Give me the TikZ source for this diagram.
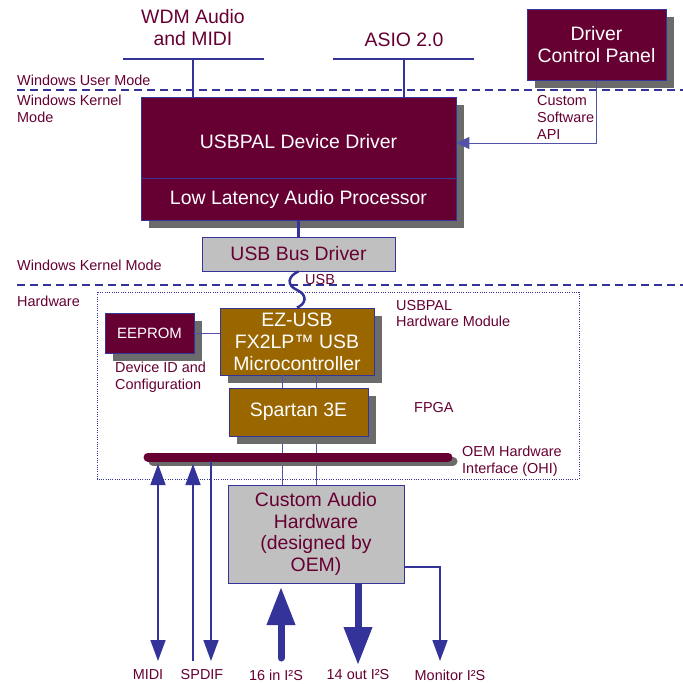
\documentclass[tikz,border=0pt]{standalone}
\usepackage{fontspec}
\setmainfont{Liberation Sans}
\usetikzlibrary{arrows.meta,shadows}
\definecolor{maroonc}{HTML}{660033}
\definecolor{brownc}{HTML}{996600}
\definecolor{greyc}{HTML}{C0C0C0}
\definecolor{bluec}{HTML}{333399}
\definecolor{shadc}{HTML}{6B6B6B}
\begin{document}
\begin{tikzpicture}[x=1bp,y=-1bp,
  big/.style={font=\fontsize{19.5}{22}\selectfont},
  small/.style={font=\fontsize{14.5}{16.8}\selectfont, text=maroonc},
  shd/.style={general shadow={fill=shadc, shadow xshift=8bp, shadow yshift=-8bp}},
  boxbase/.style={draw=bluec, line width=0.8bp, big, align=center, inner sep=0pt},
  mbox/.style={boxbase, fill=maroonc, text=white},
  bbox/.style={boxbase, fill=brownc, text=white},
  gbox/.style={boxbase, fill=greyc, text=maroonc},
  lbl/.style={small, anchor=west, align=left, inner sep=0pt},
  clbl/.style={small, align=center, inner sep=0pt},
  tlbl/.style={big, text=maroonc, align=center, inner sep=0pt},
  conn/.style={draw=bluec, line width=2.2bp},
  thinl/.style={draw=bluec!85, line width=1bp},
  sigl/.style={draw=bluec, line width=1.6bp},
  sepline/.style={draw=bluec, line width=1.2bp, dash pattern=on 8bp off 5bp},
  tipS/.style={-{Triangle[width=15bp,length=21bp]}},
  tipSS/.style={{Triangle[width=15bp,length=21bp]}-{Triangle[width=15bp,length=21bp]}},
  tipB/.style={-{Triangle[width=27bp,length=38bp]}},
  fatl/.style={draw=bluec, line width=7bp},
]
\useasboundingbox (0,0) rectangle (683,684);

% separators and region labels
\coordinate (s1L) at (17,90);  \coordinate (s1R) at (683,90);
\coordinate (s2L) at (17,285); \coordinate (s2R) at (683,285);
\draw[sepline] (s1L) -- (s1R);
\draw[sepline] (s2L) -- (s2R);
\node[lbl] (wum) at (17,80) {Windows User Mode};
\node[lbl] (wkm1) at (17,109) {Windows Kernel\\Mode};
\node[lbl] (wkm2) at (17,265) {Windows Kernel Mode};
\node[lbl] (hw) at (17,301) {Hardware};

% hardware module frame
\draw[bluec, line width=0.7bp, dash pattern=on 1bp off 1.3bp] (97,292) rectangle (579,479);

% top interfaces
\node[tlbl] (wdm) at (193,28) {WDM Audio\\and MIDI};
\node[tlbl] (asio) at (404,40) {ASIO 2.0};
\coordinate (wdmL) at (123,59); \coordinate (wdmR) at (264,59); \coordinate (wdmC) at (193,59);
\coordinate (asioL) at (333,59); \coordinate (asioR) at (474,59); \coordinate (asioC) at (404,59);
\draw[conn] (wdmL) -- (wdmR);
\draw[conn] (asioL) -- (asioR);

% driver
\node[mbox, shd, minimum width=315bp, minimum height=123bp] (drv) at (298.5,158.5) {};
\draw[conn] (wdmC) -- (wdmC |- drv.north);
\draw[conn] (asioC) -- (asioC |- drv.north);
\coordinate (divy) at (0,178);
\draw[draw=bluec, line width=0.8bp] (drv.west |- divy) -- (drv.east |- divy);
\node[big, text=white, inner sep=0pt] (dd) at (298.5,142) {USBPAL Device Driver};
\node[big, text=white, inner sep=0pt] (llap) at (298.5,199) {Low Latency Audio Processor};

% driver control panel
\node[mbox, shd, minimum width=139bp, minimum height=71bp] (dcp) at (596.5,45) {Driver\\Control Panel};
\node[lbl] (api) at (537,117.5) {Custom\\Software\\API};
\coordinate (apiy) at (0,143);
\draw[thinl, -{Triangle[width=12bp,length=13bp]}] (dcp.south) |- (drv.east |- apiy);

% USB bus driver
\node[gbox, minimum width=193bp, minimum height=34bp] (usbbus) at (298.5,254) {USB Bus Driver};
\draw[conn] (drv.south -| usbbus.north) -- (usbbus.north);

% USB link
\node[lbl] (usbl) at (305,280) {USB};

% hardware internals: signal lines
\coordinate (v1) at (282,0); \coordinate (v2) at (316,0);
\node[bbox, shd, minimum width=154bp, minimum height=67bp] (ezusb) at (297,341.5) {EZ-USB\\FX2LP™ USB\\Microcontroller};
\node[gbox, minimum width=176bp, minimum height=98bp] (cah) at (316,534) {Custom Audio\\Hardware\\(designed by\\OEM)};
\draw[thinl] (ezusb.south -| v1) -- (cah.north -| v1);
\draw[thinl] (ezusb.south -| v2) -- (cah.north -| v2);
\draw[line width=2.5bp, draw=bluec] (usbbus.south) .. controls (288,276) and (286,285) .. (297,290) .. controls (308,295) and (306,304) .. (ezusb.north);

\node[mbox, shd, minimum width=89bp, minimum height=40bp, font=\fontsize{15}{17}\selectfont] (eeprom) at (149.5,333) {EEPROM};
\draw[thinl] (eeprom.east) -- (eeprom.east -| ezusb.west);
\node[lbl] (devid) at (115,377.5) {Device ID and\\Configuration};
\node[lbl] (hwm) at (396,313.5) {USBPAL\\Hardware Module};

\node[bbox, shd, minimum width=139bp, minimum height=48bp] (spartan) at (298.5,412) {Spartan 3E};
\node[lbl] (fpga) at (414,408) {FPGA};

% OHI bus
\coordinate (busL) at (148,457); \coordinate (busR) at (448,457);
\draw[shadc, line width=9bp, line cap=round] ([shift={(5,4)}]busL) -- ([shift={(5,4)}]busR);
\draw[maroonc, line width=9bp, line cap=round] (busL) -- (busR);
\node[lbl] (ohi) at (462,461.5) {OEM Hardware\\Interface (OHI)};

% external signals
\coordinate (midiT) at (158,464); \coordinate (midiB) at (158,661);
\coordinate (spinT) at (193,464); \coordinate (spinB) at (193,661);
\coordinate (spoutT) at (211,461); \coordinate (spoutB) at (211,661);
\coordinate (inB) at (281,658); \coordinate (inT) at (281,587);
\coordinate (outB) at (358,665);
\coordinate (mony) at (0,567); \coordinate (monB) at (440,661);
\draw[sigl, tipSS] (midiT) -- (midiB);
\draw[sigl, tipS] (spinB) -- (spinT);
\draw[sigl, tipS] (spoutT) -- (spoutB);
\draw[fatl, line cap=round, tipB] (inB) -- (inT);
\draw[fatl, tipB] (cah.south -| outB) -- (outB);
\draw[sigl, tipS] (cah.east |- mony) -| (monB);

\node[clbl] (lmidi) at (148,675) {MIDI};
\node[clbl] (lspdif) at (202,675) {SPDIF};
\node[clbl] (lin) at (276,675) {16 in I²S};
\node[clbl] (lout) at (358,675) {14 out I²S};
\node[clbl] (lmon) at (450,675) {Monitor I²S};
\end{tikzpicture}
\end{document}
